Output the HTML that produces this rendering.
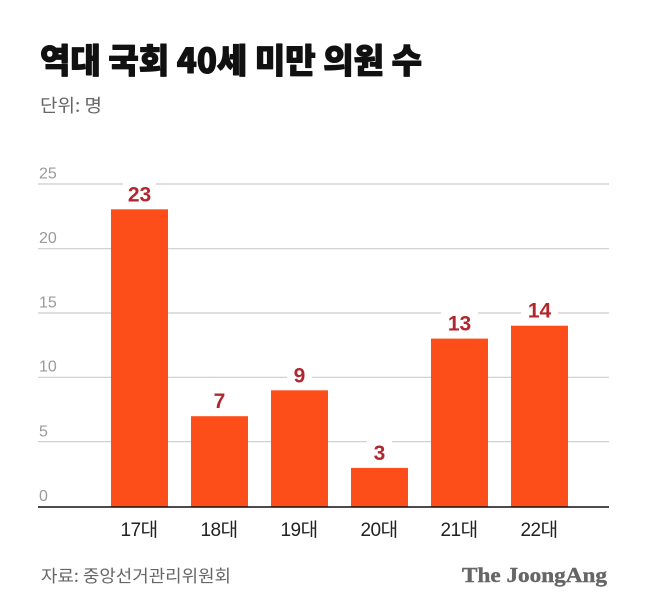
<!DOCTYPE html>
<html>
<head>
<meta charset="utf-8">
<style>
  html, body { margin:0; padding:0; background:#fff; }
  body { width:650px; height:616px; overflow:hidden; }
  svg { display:block; }
  .kr { font-family: "Liberation Sans", "Noto Sans CJK KR", sans-serif; }
</style>
</head>
<body>
<svg width="650" height="616" viewBox="0 0 650 616" xmlns="http://www.w3.org/2000/svg">
  <rect x="0" y="0" width="650" height="616" fill="#fff"/>

  <!-- Title -->
  <text x="40" y="73" font-size="34" font-weight="900" fill="#111" stroke="#111" stroke-width="1.1" stroke-linejoin="round" textLength="382" lengthAdjust="spacingAndGlyphs" style="font-family:'Noto Sans CJK KR','Liberation Sans',sans-serif;">역대 국회 40세 미만 의원 수</text>
  <!-- Subtitle -->
  <text x="40" y="112" font-size="18" fill="#666" textLength="62" lengthAdjust="spacingAndGlyphs" style="font-family:'Noto Sans CJK KR','Liberation Sans',sans-serif;">단위: 명</text>

  <!-- Gridlines -->
  <g stroke="#cccccc" stroke-width="1.2">
    <line x1="38" y1="184" x2="609" y2="184"/>
    <line x1="38" y1="248.7" x2="609" y2="248.7"/>
    <line x1="38" y1="313" x2="609" y2="313"/>
    <line x1="38" y1="377.3" x2="609" y2="377.3"/>
    <line x1="38" y1="441.7" x2="609" y2="441.7"/>
  </g>

  <!-- Y tick labels -->
  <g font-family="'Liberation Sans', sans-serif" font-size="16" fill="#9a9a9a">
    <text x="39" y="178.5">25</text>
    <text x="39" y="243">20</text>
    <text x="39" y="307.5">15</text>
    <text x="39" y="371.5">10</text>
    <text x="39" y="436.5">5</text>
    <text x="39" y="501">0</text>
  </g>

  <!-- White boxes behind value labels -->
  <g fill="#fff">
    <rect x="123" y="181" width="33" height="24"/>
    <rect x="207" y="388" width="25" height="24"/>
    <rect x="287" y="362" width="25" height="24"/>
    <rect x="367" y="440" width="25" height="24"/>
    <rect x="441" y="309" width="37" height="25"/>
    <rect x="521" y="297" width="37" height="24"/>
  </g>

  <!-- Bars -->
  <g fill="#fd4d18">
    <rect x="111" y="209.3" width="57" height="297.7"/>
    <rect x="191" y="416.2" width="57" height="90.8"/>
    <rect x="271" y="390.3" width="57" height="116.7"/>
    <rect x="351" y="467.9" width="57" height="39.1"/>
    <rect x="431" y="338.6" width="57" height="168.4"/>
    <rect x="511" y="325.7" width="57" height="181.3"/>
  </g>

  <!-- Baseline -->
  <line x1="38" y1="507" x2="609" y2="507" stroke="#111" stroke-width="1.6"/>

  <!-- Value labels -->
  <g font-family="'Liberation Sans', sans-serif" font-size="21" font-weight="700" fill="#b3262d" text-anchor="middle">
    <text x="139.5" y="201.3">23</text>
    <text x="219.5" y="408.2">7</text>
    <text x="299.5" y="382.3">9</text>
    <text x="379.5" y="459.9">3</text>
    <text x="459.5" y="330.6">13</text>
    <text x="539.5" y="317.7">14</text>
  </g>

  <!-- X labels -->
  <g font-size="19" fill="#222" text-anchor="middle" style="font-family:'Liberation Sans','Noto Sans CJK KR',sans-serif;" letter-spacing="-0.5">
    <text x="139" y="536">17대</text>
    <text x="219" y="536">18대</text>
    <text x="299" y="536">19대</text>
    <text x="379" y="536">20대</text>
    <text x="459" y="536">21대</text>
    <text x="539" y="536">22대</text>
  </g>

  <!-- Source -->
  <text x="41" y="582" font-size="17" fill="#666" textLength="190" lengthAdjust="spacingAndGlyphs" style="font-family:'Noto Sans CJK KR','Liberation Sans',sans-serif;">자료: 중앙선거관리위원회</text>

  <!-- Logo -->
  <text x="462" y="582" font-family="'Liberation Serif', serif" font-size="21" font-weight="700" fill="#666" stroke="#666" stroke-width="0.4" textLength="145" lengthAdjust="spacingAndGlyphs">The JoongAng</text>
</svg>
</body>
</html>
